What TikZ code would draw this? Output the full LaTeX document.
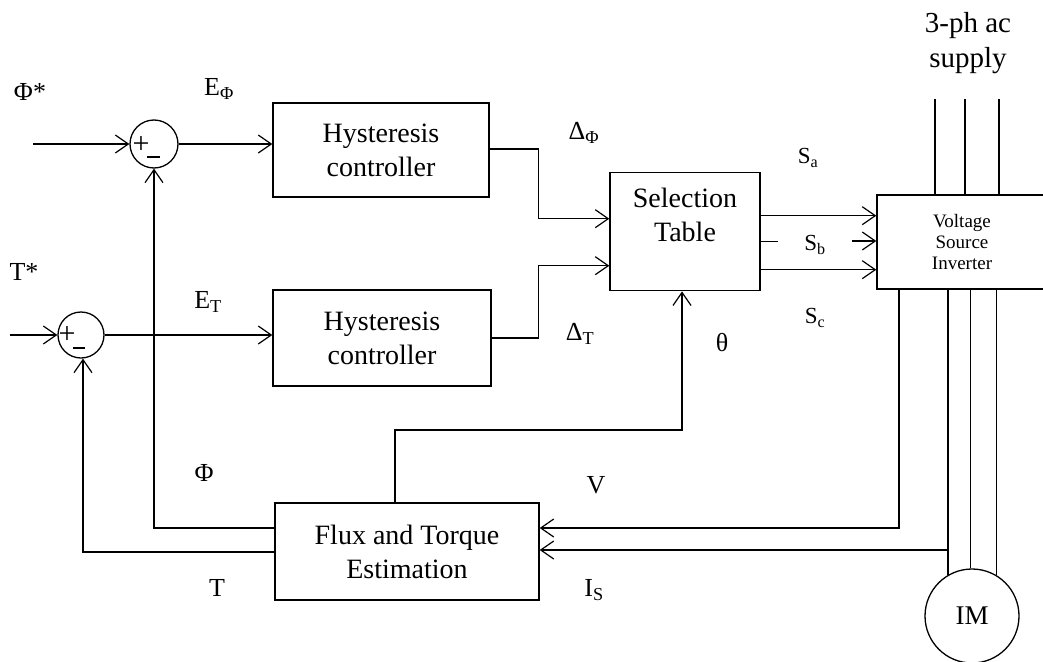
\documentclass[tikz,border=0pt]{standalone}
\usepackage{fontspec}
\setmainfont{Liberation Serif}
\usetikzlibrary{arrows.meta,calc}
\tikzset{
  conn/.style={line width=1.4pt},
  arr/.style={conn,-{Straight Barb[length=13pt,width=18pt,line width=1.2pt]}},
  blockbox/.style={draw,line width=1.4pt,rectangle,inner sep=0pt,align=center,
    font=\fontsize{28}{34}\selectfont},
  sumnode/.style={draw,line width=1.3pt,circle,inner sep=0pt,minimum size=48pt},
  lbl/.style={inner sep=0pt,font=\fontsize{26}{30}\selectfont},
  plusmark/.style={inner sep=0pt,font=\fontsize{30}{30}\selectfont},
  minusbar/.style={line width=2.8pt},
}
\begin{document}
\begin{tikzpicture}[x=1pt,y=-1pt]
\useasboundingbox (0,0) rectangle (1043,661);
% blocks
\node[sumnode] (sum1) at (154,144) {};
\node[sumnode,minimum size=46pt] (sum2) at (81,335) {};
\node[blockbox,minimum width=216pt,minimum height=94pt] (hyst1) at (381,150) {Hysteresis\\controller};
\node[blockbox,minimum width=218pt,minimum height=96pt] (hyst2) at (382,338) {Hysteresis\\controller};
\node[blockbox,minimum width=150pt,minimum height=118pt,anchor=north] (sel) at (685,172) {Selection\\Table\\[0pt]\phantom{X}};
\node[blockbox,minimum width=170pt,minimum height=94pt,font=\fontsize{19}{21}\selectfont] (vsi) at (962,242) {Voltage\\Source\\Inverter};
\node[blockbox,minimum width=264pt,minimum height=97pt] (flux) at (407,551.5) {Flux and Torque\\Estimation};
\node[draw,line width=1.3pt,circle,minimum size=94pt,inner sep=0pt,font=\fontsize{27}{27}\selectfont] (motor) at (972,616) {IM};
% signs in summing junctions
\node[plusmark] (p1) at ([xshift=-13pt,yshift=-1pt]sum1.center) {+};
\draw[minusbar] ([xshift=-7pt,yshift=-13pt]sum1.center) -- ++(13,0);
\node[plusmark] (p2) at ([xshift=-14pt,yshift=0pt]sum2.center) {+};
\draw[minusbar] ([xshift=-8pt,yshift=-13pt]sum2.center) -- ++(12,0);
% coordinates
\coordinate (in1) at (33,144);
\coordinate (in2) at (10,335);
\coordinate (s1) at (935,99);
\coordinate (s2) at (965,99);
\coordinate (s3) at (999,99);
\coordinate (vfb) at (899,528);
\coordinate (isfb) at (948,550);
\coordinate (th) at (395,430);
% inputs
\draw[arr] (in1) -- (sum1.west);
\draw[arr] (in2) -- (sum2.west);
\draw[arr] (sum1.east) -- (sum1.east -| hyst1.west);
\draw[arr] (sum2.east) -- (sum2.east -| hyst2.west);
% hysteresis to selection table
\draw[arr] ([yshift=1pt]hyst1.east) -- ++(49,0) |- ([yshift=13pt]sel.west);
\draw[arr] (hyst2.east) -- ++(47,0) |- ([yshift=-34pt]sel.west);
% switching signals
\draw[arr] ([yshift=16pt]sel.east) -- ([yshift=16pt]sel.east -| vsi.west);
\draw[conn] ([yshift=-10pt]sel.east) -- ++(17,0);
\draw[arr] ([xshift=-24pt,yshift=1pt]vsi.west) -- ([yshift=1pt]vsi.west);
\draw[arr] ([yshift=-38pt]sel.east) -- ([yshift=-38pt]sel.east -| vsi.west);
% supply
\draw[conn] (s1) -- (s1 |- vsi.north);
\draw[conn] (s2) -- (s2 |- vsi.north);
\draw[conn] (s3) -- (s3 |- vsi.north);
% motor feeds
\draw[conn] (motor.120.7 |- vsi.south) -- (motor.120.7);
\draw[conn] (motor.92.4 |- vsi.south) -- (motor.92.4);
\draw[conn] (motor.59.3 |- vsi.south) -- (motor.59.3);
% measurements
\draw[arr] (vfb |- vsi.south) -- (vfb) -- (vfb -| flux.east);
\draw[arr] (isfb) -- (isfb -| flux.east);
% theta
\draw[arr] (th |- flux.north) -- (th) -| ([xshift=-3pt]sel.south);
% feedbacks
\draw[arr] ([yshift=23.5pt]flux.west) -| (sum1.south);
\draw[arr] ([yshift=-0.5pt]flux.west) -| ([xshift=2pt]sum2.south);
% labels
\node[lbl] (lphis) at (30,92) {Φ*};
\node[lbl] (lts) at (24,272) {T*};
\node[lbl] (lephi) at (219,89) {E\textsubscript{Φ}};
\node[lbl] (let) at (208,302) {E\textsubscript{T}};
\node[lbl] (ldphi) at (584,133) {Δ\textsubscript{Φ}};
\node[lbl] (ldt) at (580,334) {Δ\textsubscript{T}};
\node[lbl,font=\fontsize{23}{26}\selectfont] (lsa) at (808,158) {S\textsubscript{a}};
\node[lbl,font=\fontsize{23}{26}\selectfont] (lsb) at (815,245) {S\textsubscript{b}};
\node[lbl,font=\fontsize{23}{26}\selectfont] (lsc) at (815,318) {S\textsubscript{c}};
\node[lbl] (lth) at (722,343) {θ};
\node[lbl] (lphi) at (204,473) {Φ};
\node[lbl] (lv) at (596,485) {V};
\node[lbl] (lt) at (217,588) {T};
\node[lbl] (lis) at (594,590) {I\textsubscript{S}};
\node[lbl,align=center,font=\fontsize{29}{35}\selectfont] (lsup) at (968,43) {3-ph ac\\supply};
\end{tikzpicture}
\end{document}
